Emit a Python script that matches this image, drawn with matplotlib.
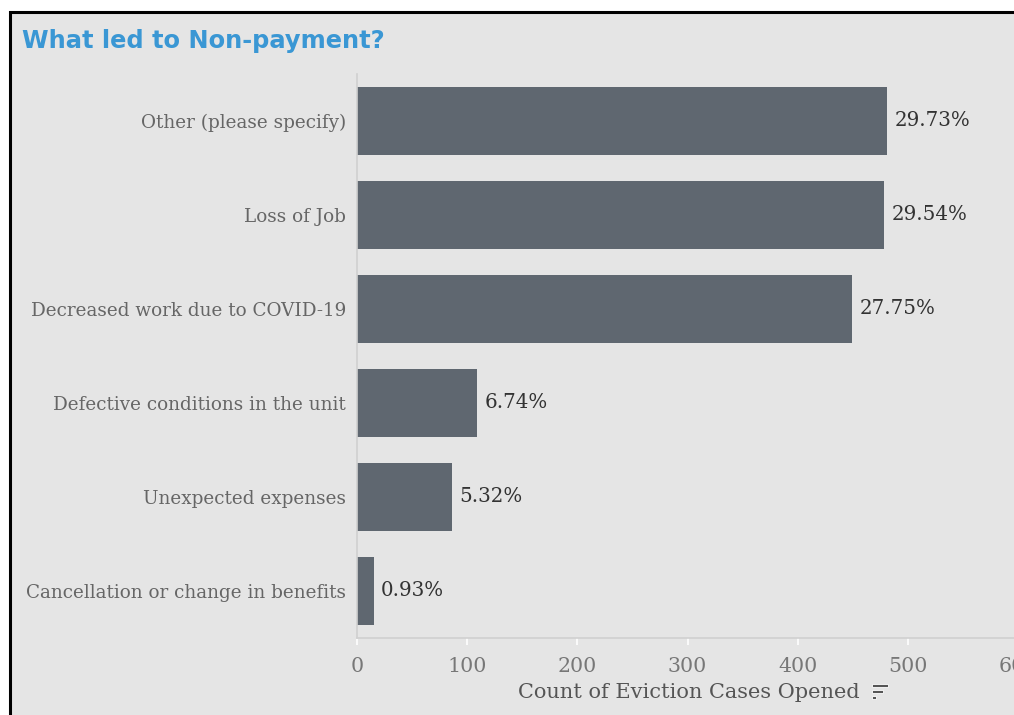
import numpy as np
import matplotlib.pyplot as plt
from matplotlib.patches import Rectangle

categories = [
    "Other (please specify)",
    "Loss of Job",
    "Decreased work due to COVID-19",
    "Defective conditions in the unit",
    "Unexpected expenses",
    "Cancellation or change in benefits",
]
counts = [481, 478, 449, 109, 86, 15]
x_ticks = [0, 100, 200, 300, 400, 500, 600]

bg = "#e5e5e5"
bar_color = "#5f6770"

W, H = 1014, 715
fig = plt.figure(figsize=(W / 100, H / 100), dpi=100, facecolor="white")

# grey panel with a black frame on the top and left
fig.patches.append(Rectangle((9.5 / W, -0.05), 1.1, 1 - 12 / H + 0.05,
                             transform=fig.transFigure, facecolor=bg,
                             edgecolor="black", linewidth=2.2, zorder=0))

fig.text(22 / W, 1 - 41 / H, "What led to Non-payment?", color="#3a97d4",
         fontsize=17.4, fontweight="bold", family="DejaVu Sans", va="center", ha="left",
         zorder=3)

left, right_px = 357, 357 + 661
top, bottom = 74, 638
ax = fig.add_axes([left / W, 1 - bottom / H, (right_px - left) / W, (bottom - top) / H])
ax.set_facecolor("none")
ax.set_zorder(2)

y = np.arange(len(categories))
total = sum(counts)
ax.barh(y, counts, height=0.73, color=bar_color, zorder=2)
for yi, c in zip(y, counts):
    ax.text(c + 7, yi, f"{c / total * 100:.2f}%", va="center", ha="left",
            fontsize=14.3, family="DejaVu Serif", color="#333333")

ax.set_ylim(len(categories) - 0.5, -0.5)
ax.set_xlim(0, 600)
ax.set_yticks(y)
ax.set_yticklabels(categories, family="DejaVu Serif", fontsize=13.2, color="#666666")
ax.tick_params(axis="y", length=0, pad=8)
ax.set_xticks(x_ticks)
ax.set_xticklabels([str(t) for t in x_ticks], family="DejaVu Serif", fontsize=14.8, color="#777777")
ax.tick_params(axis="x", length=5, width=1.2, color="white", pad=9)

for s in ["top", "right"]:
    ax.spines[s].set_visible(False)
ax.spines["left"].set_color("#d0d0d0")
ax.spines["bottom"].set_color("#d0d0d0")
ax.spines["left"].set_linewidth(1.2)
ax.spines["bottom"].set_linewidth(1.2)

fig.text(689 / W, 1 - 693 / H, "Count of Eviction Cases Opened", ha="center", va="center",
         family="DejaVu Serif", fontsize=15, color="#555555", zorder=3)

# sort icon next to the axis title
for i, wpx in enumerate([16, 11, 4]):
    fig.patches.append(Rectangle((872 / W, 1 - (687 + i * 6) / H), wpx / W, 3.2 / H,
                                 transform=fig.transFigure, facecolor="#555555",
                                 edgecolor="white", linewidth=0.6, zorder=3))

fig.savefig("out.png", dpi=100, facecolor="white")
